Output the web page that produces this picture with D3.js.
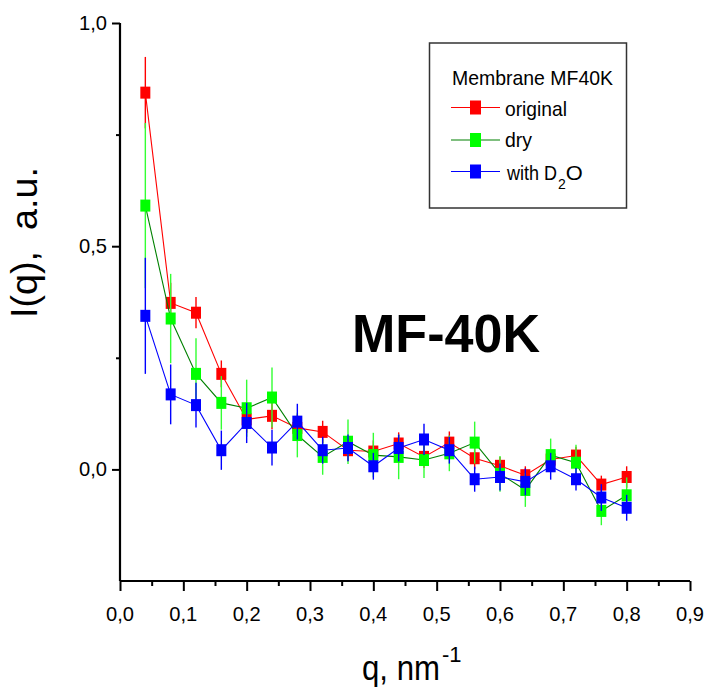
<!DOCTYPE html>
<html><head><meta charset="utf-8">
<script src="https://cdn.jsdelivr.net/npm/d3@7"></script>
<style>body{margin:0;background:#fff}svg{display:block}text{font-family:"Liberation Sans",Arial,sans-serif}</style>
</head><body>
<svg id="c" width="707" height="688"></svg>
<script>
const q = [0.04,0.08,0.12,0.16,0.20,0.24,0.28,0.32,0.36,0.40,0.44,0.48,0.52,0.56,0.60,0.64,0.68,0.72,0.76,0.80];
const original = [0.844,0.373,0.351,0.214,0.112,0.120,0.093,0.084,0.043,0.040,0.058,0.028,0.060,0.025,0.008,-0.013,0.022,0.031,-0.034,-0.017];
const originalErr = [0.08,0.045,0.035,0.03,0.03,0.03,0.03,0.025,0.025,0.025,0.025,0.025,0.025,0.025,0.02,0.02,0.02,0.02,0.02,0.024];
const dry = [0.591,0.338,0.214,0.149,0.137,0.161,0.077,0.028,0.062,0.032,0.028,0.021,0.036,0.060,-0.010,-0.046,0.032,0.015,-0.093,-0.058];
const dryErr = [0.185,0.10,0.08,0.06,0.064,0.067,0.05,0.04,0.05,0.05,0.05,0.04,0.04,0.047,0.04,0.038,0.037,0.04,0.032,0.04];
const withD2O = [0.344,0.168,0.144,0.043,0.104,0.049,0.107,0.043,0.048,0.007,0.048,0.067,0.043,-0.022,-0.017,-0.028,0.007,-0.022,-0.063,-0.086];
const withD2OErr = [0.13,0.067,0.05,0.044,0.045,0.04,0.04,0.03,0.03,0.03,0.03,0.035,0.03,0.028,0.03,0.03,0.03,0.025,0.03,0.029];
const xTicks = [0,0.1,0.2,0.3,0.4,0.5,0.6,0.7,0.8,0.9];
const xTickLabels = ["0,0","0,1","0,2","0,3","0,4","0,5","0,6","0,7","0,8","0,9"];
const yTicks = [0,0.5,1.0];
const yTickLabels = ["0,0","0,5","1,0"];
const seriesNames = ["original","dry","with D2O"];

const series = [
  {name: seriesNames[0], vals: original, err: originalErr, line: "#ff0000", mark: "#ff0000", errc: "#ff0000"},
  {name: seriesNames[1], vals: dry, err: dryErr, line: "#008000", mark: "#00ff00", errc: "#33ff33"},
  {name: seriesNames[2], vals: withD2O, err: withD2OErr, line: "#0000ff", mark: "#0000ff", errc: "#0000ff"}
];

const svg = d3.select("#c");
const x = d3.scaleLinear().domain([0,0.9]).range([120,690]);
const y = d3.scaleLinear().domain([-0.25,1.0]).range([581,23]);

// axes
const xAxis = d3.axisBottom(x).tickValues(d3.range(0,0.9001,0.05)).tickSize(10).tickFormat("");
const gx = svg.append("g").attr("transform","translate(0,581)").call(xAxis);
gx.select(".domain").attr("stroke","#000").attr("stroke-width",2.2).attr("d","M120,0H690");
gx.selectAll(".tick line").attr("stroke","#000").attr("stroke-width",2)
  .attr("y2",(d)=> (Math.round(d*20)%2===0)?10:5);
const yAxis = d3.axisLeft(y).tickValues([0.75,0.5,0.25,0,1.0]).tickSize(8).tickFormat("");
const gy = svg.append("g").attr("transform","translate(120,0)").call(yAxis);
gy.select(".domain").attr("stroke","#000").attr("stroke-width",2.2).attr("d","M0,23V581");
gy.selectAll(".tick line").attr("stroke","#000").attr("stroke-width",2)
  .attr("x2",(d)=> (Math.round(d*4)%2===0)?-8:-4);

svg.append("g").selectAll("text").data(xTicks).join("text")
  .attr("x",d=>x(d)).attr("y",621).attr("text-anchor","middle")
  .attr("font-size",21).attr("textLength",28).attr("lengthAdjust","spacingAndGlyphs")
  .text((d,i)=>xTickLabels[i]);
svg.append("g").selectAll("text").data(yTicks).join("text")
  .attr("x",107).attr("y",d=>y(d)+7).attr("text-anchor","end")
  .attr("font-size",21).attr("textLength",28).attr("lengthAdjust","spacingAndGlyphs")
  .text((d,i)=>yTickLabels[i]);

// data
const line = d3.line().x((d,i)=>x(q[i])).y(d=>y(d));
series.forEach(s=>{
  const g = svg.append("g");
  g.append("path").datum(s.vals).attr("d",line).attr("fill","none").attr("stroke",s.line).attr("stroke-width",1.1);
  g.selectAll("line.err").data(s.vals).join("line").attr("class","err")
    .attr("x1",(d,i)=>x(q[i])).attr("x2",(d,i)=>x(q[i]))
    .attr("y1",(d,i)=>y(d+s.err[i])).attr("y2",(d,i)=>y(d-s.err[i]))
    .attr("stroke",s.errc).attr("stroke-width",1.4);
  g.selectAll("rect").data(s.vals).join("rect")
    .attr("x",(d,i)=>x(q[i])-5).attr("y",d=>y(d)-6).attr("width",10).attr("height",12)
    .attr("fill",s.mark);
});

// big label
svg.append("text").attr("x",352).attr("y",352).attr("font-size",54).attr("font-weight","bold")
  .attr("textLength",188).attr("lengthAdjust","spacingAndGlyphs").text("MF-40K");

// legend
const lg = svg.append("g");
lg.append("rect").attr("x",429.5).attr("y",43).attr("width",197).attr("height",165)
  .attr("fill","#fff").attr("stroke","#333").attr("stroke-width",1.5);
lg.append("text").attr("x",452).attr("y",85).attr("font-size",21)
  .attr("textLength",161).attr("lengthAdjust","spacingAndGlyphs").text("Membrane MF40K");
const rowsY = [107.5,140,171.5];
series.forEach((s,i)=>{
  lg.append("line").attr("x1",451).attr("x2",500).attr("y1",rowsY[i]).attr("y2",rowsY[i]).attr("stroke",s.line).attr("stroke-width",1.2);
  lg.append("rect").attr("x",470).attr("y",rowsY[i]-7).attr("width",11).attr("height",14).attr("fill",s.mark);
});
lg.append("text").attr("x",505).attr("y",115.5).attr("font-size",21).attr("textLength",62).attr("lengthAdjust","spacingAndGlyphs").text(seriesNames[0]);
lg.append("text").attr("x",505).attr("y",147).attr("font-size",21).attr("textLength",27).attr("lengthAdjust","spacingAndGlyphs").text(seriesNames[1]);
const wt = lg.append("text").attr("x",507).attr("y",179.5).attr("font-size",21);
wt.append("tspan").attr("textLength",50).attr("lengthAdjust","spacingAndGlyphs").text("with D");
wt.append("tspan").attr("dx",1).attr("dy",9).attr("font-size",14).text("2");
wt.append("tspan").attr("dx",0).attr("dy",-9).attr("textLength",17).attr("lengthAdjust","spacingAndGlyphs").text("O");

// axis titles
svg.append("text").attr("transform","translate(37,318) rotate(-90)").attr("font-size",37)
  .attr("textLength",151).attr("lengthAdjust","spacingAndGlyphs").attr("xml:space","preserve").text("I(q),  a.u.");
const xt = svg.append("text").attr("x",362).attr("y",680).attr("font-size",35);
xt.append("tspan").attr("textLength",78).attr("lengthAdjust","spacingAndGlyphs").text("q, nm");
xt.append("tspan").attr("dx",2).attr("dy",-18).attr("font-size",22).text("-1");
</script>
</body></html>
